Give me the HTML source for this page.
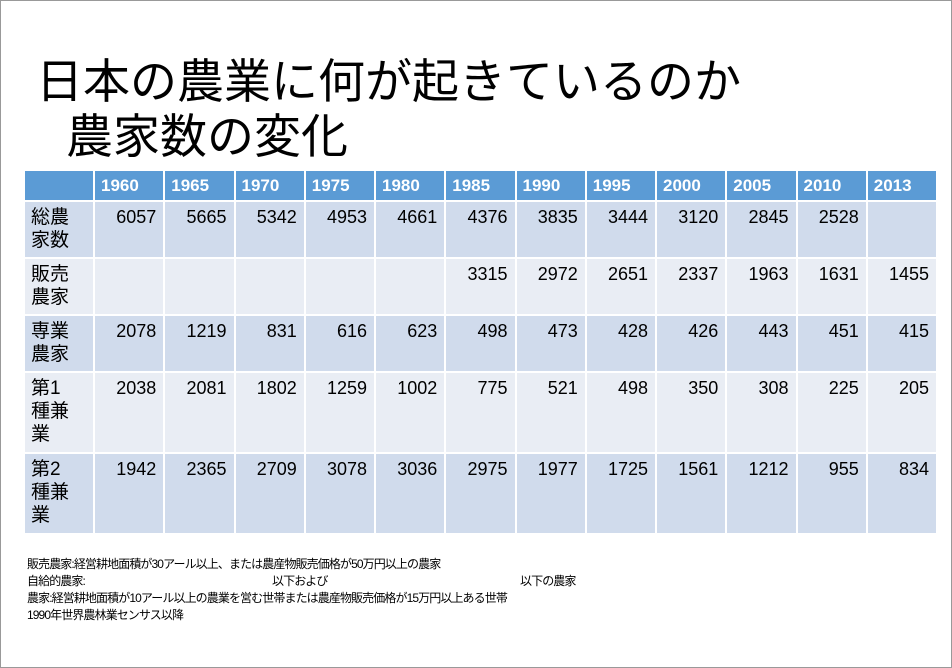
<!DOCTYPE html>
<html><head><meta charset="utf-8"><style>
*{margin:0;padding:0;box-sizing:border-box}
body{width:952px;height:668px;background:#fff;position:relative;overflow:hidden;font-family:"Liberation Sans","Noto Sans CJK JP",sans-serif}
.frame{position:absolute;left:0;top:0;width:952px;height:668px;border:1px solid #999}
.t{position:absolute;font-size:47px;color:#000;white-space:nowrap;line-height:1}
table{position:absolute;left:23px;top:169px;border-collapse:collapse;table-layout:fixed;width:915px}
td,th{border:2px solid #fff;font-size:18px;vertical-align:top;padding:5px 7px 0 6px;text-align:right;color:#000;font-weight:normal}
th{background:#5b9bd5;color:#fff;font-weight:bold;text-align:left;height:31px;padding-top:5px;font-size:17px}
tr.o td{background:#d0dbec}
tr.e td{background:#e9edf4}
td.h{text-align:left;line-height:23px;font-size:19px;padding-top:4px}
.n{position:absolute;left:27px;font-size:12px;letter-spacing:-0.9px;white-space:nowrap;line-height:16px}
</style></head><body>
<div class="frame"></div>
<div class="t" style="left:36px;top:58px">日本の農業に何が起きているのか</div>
<div class="t" style="left:66px;top:113px">農家数の変化</div>
<table>
<colgroup><col style="width:70px"><col span="12"></colgroup>
<tr><th></th><th>1960</th><th>1965</th><th>1970</th><th>1975</th><th>1980</th><th>1985</th><th>1990</th><th>1995</th><th>2000</th><th>2005</th><th>2010</th><th>2013</th></tr>
<tr class="o" style="height:57px"><td class="h">総農<br>家数</td><td>6057</td><td>5665</td><td>5342</td><td>4953</td><td>4661</td><td>4376</td><td>3835</td><td>3444</td><td>3120</td><td>2845</td><td>2528</td><td></td></tr>
<tr class="e" style="height:57px"><td class="h">販売<br>農家</td><td></td><td></td><td></td><td></td><td></td><td>3315</td><td>2972</td><td>2651</td><td>2337</td><td>1963</td><td>1631</td><td>1455</td></tr>
<tr class="o" style="height:57px"><td class="h">専業<br>農家</td><td>2078</td><td>1219</td><td>831</td><td>616</td><td>623</td><td>498</td><td>473</td><td>428</td><td>426</td><td>443</td><td>451</td><td>415</td></tr>
<tr class="e" style="height:81px"><td class="h">第1<br>種兼<br>業</td><td>2038</td><td>2081</td><td>1802</td><td>1259</td><td>1002</td><td>775</td><td>521</td><td>498</td><td>350</td><td>308</td><td>225</td><td>205</td></tr>
<tr class="o" style="height:81px"><td class="h">第2<br>種兼<br>業</td><td>1942</td><td>2365</td><td>2709</td><td>3078</td><td>3036</td><td>2975</td><td>1977</td><td>1725</td><td>1561</td><td>1212</td><td>955</td><td>834</td></tr>
</table>
<div class="n" style="top:556px">販売農家:経営耕地面積が30アール以上、または農産物販売価格が50万円以上の農家</div>
<div class="n" style="top:573px">自給的農家:</div>
<div class="n" style="top:573px;left:272px">以下および</div>
<div class="n" style="top:573px;left:520px">以下の農家</div>
<div class="n" style="top:590px">農家:経営耕地面積が10アール以上の農業を営む世帯または農産物販売価格が15万円以上ある世帯</div>
<div class="n" style="top:607px">1990年世界農林業センサス以降</div>
</body></html>
